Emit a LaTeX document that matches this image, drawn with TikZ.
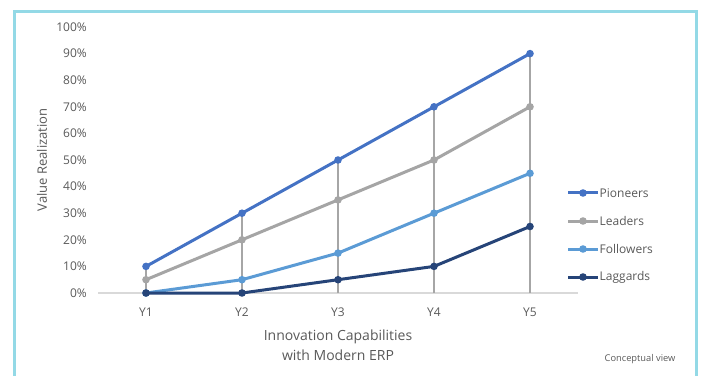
\documentclass[tikz,border=0pt]{standalone}
\usepackage{fontspec}
\setmainfont{Open Sans}
\usepackage{xcolor}
\usepackage{tikz}
\usetikzlibrary{calc}

\definecolor{frameblue}{HTML}{93D9E6}
\definecolor{axisgray}{HTML}{D9D9D9}
\definecolor{dropgray}{HTML}{A6A6A6}
\definecolor{textgray}{HTML}{595959}
\definecolor{pioneercol}{HTML}{4472C4}
\definecolor{leadercol}{HTML}{A5A5A5}
\definecolor{followercol}{HTML}{5B9BD5}
\definecolor{laggardcol}{HTML}{264478}

\begin{document}
\begin{tikzpicture}[x=1pt, y=1pt,
  lbl/.style={text=textgray, font=\fontsize{12}{14}\selectfont, inner sep=0pt},
  series/.style={line width=3pt, line join=round}]
  \useasboundingbox (0,0) rectangle (703,375);
  % frame, open at the bottom
  \draw[frameblue, line width=3pt] (14,-3) -- (14,363.5) -- (696,363.5) -- (696,-3);

  \begin{scope}[shift={(50pt,82pt)}, x=96pt, y=2.66pt]
  % axis line and tick labels
  \draw[axisgray, line width=1.2pt] (0.5,0) -- (5.5,0);
  \foreach \v in {0,10,...,100} {
    \node[lbl, anchor=east] (ytick\v) at (0.385,\v) {\v\%};
  }
  \foreach \i in {1,...,5} {
    \node[lbl] (xtick\i) at (\i,-7.1) {Y\i};
  }
  % drop lines
  \foreach \x/\y in {1/10, 2/30, 3/50, 4/70, 5/90} {
    \draw[dropgray, line width=1.3pt] (\x,0) -- (\x,\y);
  }

  \draw[series, pioneercol] (1,10) -- (2,30) -- (3,50) -- (4,70) -- (5,90);
  \foreach \x/\y in {1/10, 2/30, 3/50, 4/70, 5/90} {
    \fill[pioneercol] (\x,\y) circle (3.8pt);
  }
  \draw[series, leadercol] (1,5) -- (2,20) -- (3,35) -- (4,50) -- (5,70);
  \foreach \x/\y in {1/5, 2/20, 3/35, 4/50, 5/70} {
    \fill[leadercol] (\x,\y) circle (3.8pt);
  }
  \draw[series, followercol] (1,0) -- (2,5) -- (3,15) -- (4,30) -- (5,45);
  \foreach \x/\y in {1/0, 2/5, 3/15, 4/30, 5/45} {
    \fill[followercol] (\x,\y) circle (3.8pt);
  }
  \draw[series, laggardcol] (1,0) -- (2,0) -- (3,5) -- (4,10) -- (5,25);
  \foreach \x/\y in {1/0, 2/0, 3/5, 4/10, 5/25} {
    \fill[laggardcol] (\x,\y) circle (3.8pt);
  }

  % axis titles
  \node[lbl, font=\fontsize{14}{20}\selectfont, align=center] (xtitle) at (3,-19.5)
    {Innovation Capabilities\\with Modern ERP};
  \node[lbl, font=\fontsize{13}{15}\selectfont, rotate=90] (ytitle) at (-0.083,50)
    {Value Realization};
  \end{scope}

  % legend
  \foreach \lname/\col [count=\k] in {Pioneers/pioneercol, Leaders/leadercol,
      Followers/followercol, Laggards/laggardcol} {
    \draw[series, \col] (568,210-28*\k) -- (598,210-28*\k);
    \fill[\col] (583,210-28*\k) circle (3.8);
    \node[lbl, anchor=west] (leg\k) at (599.5,210-28*\k) {\lname};
  }

  \node[lbl, font=\fontsize{9.3}{11}\selectfont] (note) at (640,16) {Conceptual view};
\end{tikzpicture}
\end{document}
